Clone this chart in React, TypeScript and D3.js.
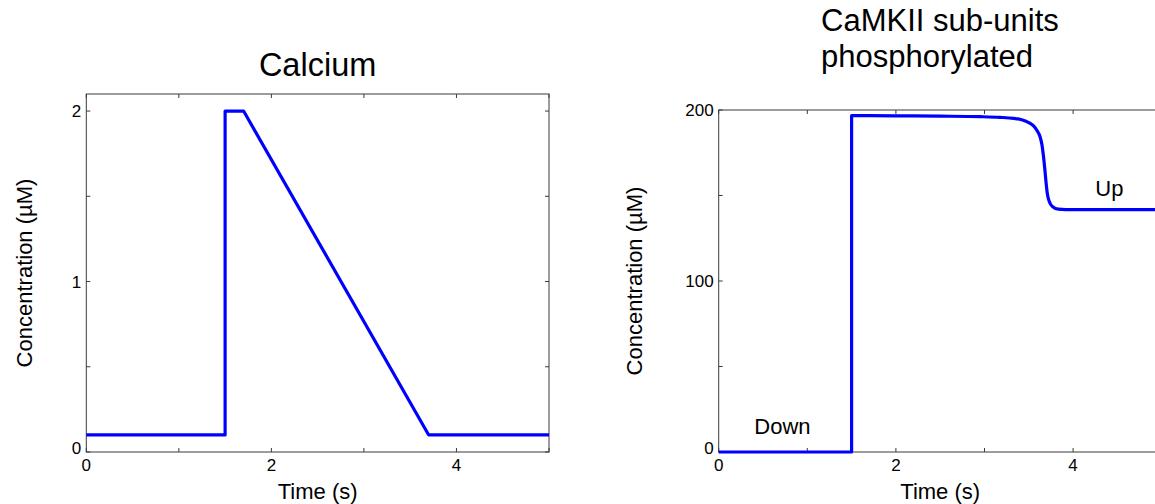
import React from "react";
import * as d3 from "d3";

// ---- Data ----
const calciumTime = [0, 1.5, 1.5, 1.7, 3.7, 5];
const calciumConc = [0.1, 0.1, 2.0, 2.0, 0.1, 0.1];

const camkiiTime = [0, 1.5, 1.5, 2.0, 2.5, 2.95, 3.175, 3.33, 3.42, 3.494, 3.551, 3.596, 3.627, 3.649, 3.664, 3.68, 3.694, 3.709, 3.732, 3.77, 3.833, 4.0, 5];
const camkiiConc = [0, 0, 196.7, 196.6, 196.4, 196.1, 195.7, 195.1, 194.3, 192.8, 190.8, 187.7, 184.4, 179.5, 173.7, 165.9, 158.0, 151.2, 146.3, 143.4, 142.0, 141.7, 141.7];

const xTicks = [0, 1, 2, 3, 4, 5];
const xTickLabels = [0, 2, 4];
const caYTicks = [0, 0.5, 1, 1.5, 2];
const caYTickLabels = [0, 1, 2];
const kYTicks = [0, 50, 100, 150, 200];
const kYTickLabels = [0, 100, 200];

const FONT = "'Liberation Sans', Arial, Helvetica, sans-serif";
const AXIS = "#3a3a3a";

type PanelProps = {
  x0: number; x1: number; yTop: number; yBottom: number;
  yDomain: [number, number];
  times: number[]; values: number[];
  smooth: boolean;
  yTicks: number[]; yTickLabels: number[];
  title: string[];
  titleX: number;
  titleAnchor: "start" | "middle";
  titleSize: number;
  titleBaseline: number;
  yLabelX: number;
  children?: (x: d3.ScaleLinear<number, number>, y: d3.ScaleLinear<number, number>) => React.ReactNode;
};

function Panel(p: PanelProps) {
  const x = d3.scaleLinear().domain([0, 5]).range([p.x0, p.x1]);
  const y = d3.scaleLinear().domain(p.yDomain).range([p.yBottom, p.yTop]);
  const pts = p.times.map((t, i) => [t, p.values[i]] as [number, number]);
  const line = d3.line<[number, number]>().x(d => x(d[0])).y(d => y(d[1]))
    .curve(p.smooth ? d3.curveMonotoneX : d3.curveLinear);
  const tl = 4;
  const cx = (p.x0 + p.x1) / 2;
  const cy = (p.yTop + p.yBottom) / 2;
  return (
    <g>
      {p.title.map((t, i) => (
        <text key={i} x={p.titleX} y={p.titleBaseline + i * 36} textAnchor={p.titleAnchor} fontSize={p.titleSize} fontFamily={FONT} fill="#000">{t}</text>
      ))}
      <rect x={p.x0} y={p.yTop} width={p.x1 - p.x0} height={p.yBottom - p.yTop} fill="none" stroke={AXIS} strokeWidth={1} />
      {xTicks.map(t => (
        <g key={"xt" + t}>
          <line x1={x(t)} x2={x(t)} y1={p.yBottom} y2={p.yBottom - tl} stroke={AXIS} />
          <line x1={x(t)} x2={x(t)} y1={p.yTop} y2={p.yTop + tl} stroke={AXIS} />
        </g>
      ))}
      {p.yTicks.map(t => (
        <g key={"yt" + t}>
          <line x1={p.x0} x2={p.x0 + tl} y1={y(t)} y2={y(t)} stroke={AXIS} />
          <line x1={p.x1} x2={p.x1 - tl} y1={y(t)} y2={y(t)} stroke={AXIS} />
        </g>
      ))}
      <path d={line(pts) || ""} fill="none" stroke="#0000ff" strokeWidth={3.2} strokeLinejoin="round" />
      {xTickLabels.map(t => (
        <text key={"xl" + t} x={x(t)} y={p.yBottom + 19} textAnchor="middle" fontSize={17} fontFamily={FONT}>{t}</text>
      ))}
      {p.yTickLabels.map(t => (
        <text key={"yl" + t} x={p.x0 - 5} y={y(t) + (t === 0 ? 2 : 6)} textAnchor="end" fontSize={17} fontFamily={FONT}>{t}</text>
      ))}
      <text x={cx} y={p.yBottom + 47} textAnchor="middle" fontSize={22} fontFamily={FONT}>Time (s)</text>
      <text transform={`translate(${p.yLabelX},${cy}) rotate(-90)`} textAnchor="middle" dominantBaseline="central" fontSize={22} fontFamily={FONT}>Concentration (µM)</text>
      {p.children ? p.children(x, y) : null}
    </g>
  );
}

export default function App() {
  return (
    <svg width={1155} height={504} style={{ position: "absolute", left: 0, top: 0, background: "#fff" }}>
      <rect width={1155} height={504} fill="#fff" />
      <Panel x0={86.3} x1={549} yTop={94} yBottom={452} yDomain={[0, 2.1]}
        times={calciumTime} values={calciumConc} smooth={false}
        yTicks={caYTicks} yTickLabels={caYTickLabels}
        title={["Calcium"]} titleX={317.6} titleAnchor="middle" titleSize={32.5} titleBaseline={76} yLabelX={24} />
      <Panel x0={718.7} x1={1161.7} yTop={110} yBottom={452} yDomain={[0, 200]}
        times={camkiiTime} values={camkiiConc} smooth={true}
        yTicks={kYTicks} yTickLabels={kYTickLabels}
        title={["CaMKII sub-units", "phosphorylated"]} titleX={821} titleAnchor="start" titleSize={31} titleBaseline={31} yLabelX={634}>
        {(x, y) => (
          <g fontFamily={FONT} fontSize={22}>
            <text x={x(0.72)} y={y(10.5)} textAnchor="middle">Down</text>
            <text x={x(4.41)} y={y(150)} textAnchor="middle">Up</text>
          </g>
        )}
      </Panel>
    </svg>
  );
}
